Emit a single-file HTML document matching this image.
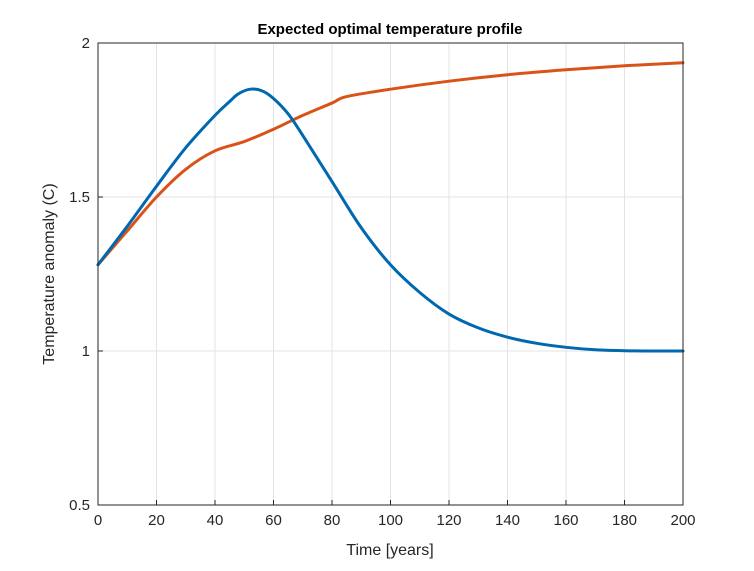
<!DOCTYPE html>
<html><head><meta charset="utf-8"><style>
body{margin:0;background:#fff;}
svg text{font-family:"Liberation Sans",Arial,sans-serif;}
</style></head><body>
<svg id="chart" width="754" height="566" viewBox="0 0 754 566">
<rect x="98" y="43" width="585" height="462" fill="#fff" stroke="none"/>
<g id="grid"></g>
<g id="series"></g>
<rect x="98" y="43" width="585" height="462" fill="none" stroke="#262626" stroke-width="1"/>
<g id="ticks"></g>
<text x="390" y="34" text-anchor="middle" font-size="15" font-weight="bold" fill="#000">Expected optimal temperature profile</text>
<text x="390" y="555" text-anchor="middle" font-size="16" fill="#262626">Time [years]</text>
<text x="54" y="274" text-anchor="middle" font-size="16" fill="#262626" transform="rotate(-90 54 274)">Temperature anomaly (C)</text>
</svg>
<script>
const xTicks=[0,20,40,60,80,100,120,140,160,180,200];
const yTicks=[0.5,1,1.5,2];
const yTickLabels=["0.5","1","1.5","2"];
const blueX=[0,10,20,30,40,45,48,52,56,60,65,70,80,90,100,110,120,130,140,150,160,170,180,190,200];
const blueY=[1.28,1.405,1.535,1.66,1.765,1.81,1.835,1.85,1.845,1.82,1.77,1.70,1.55,1.40,1.28,1.19,1.12,1.075,1.045,1.025,1.012,1.004,1.001,1.0,1.0];
const orangeX=[0,10,20,30,40,50,60,70,80,85,100,120,140,160,180,200];
const orangeY=[1.28,1.39,1.50,1.59,1.65,1.68,1.72,1.765,1.805,1.826,1.85,1.876,1.897,1.913,1.926,1.936];
const L=98,R=683,T=43,B=505;
const sx=v=>L+(v-0)/200*(R-L);
const sy=v=>B-(v-0.5)/1.5*(B-T);
const NS="http://www.w3.org/2000/svg";
const grid=document.getElementById('grid'),ticks=document.getElementById('ticks'),series=document.getElementById('series');
function mk(tag,attrs,parent){const e=document.createElementNS(NS,tag);for(const k in attrs)e.setAttribute(k,attrs[k]);parent.appendChild(e);return e;}
xTicks.forEach(t=>{
 const x=sx(t);
 const g=mk('line',{x1:x,x2:x,y1:T,y2:B,stroke:'#e3e3e3','stroke-width':1},grid);
 
 
 const tk=mk('line',{x1:x,x2:x,y1:B,y2:B-5,stroke:'#262626'},ticks);
 
 
 const tx=mk('text',{x:x,y:B+20,'text-anchor':'middle','font-size':15,fill:'#262626'},ticks);
 tx.textContent=t;
 
 
});
yTicks.forEach((t,i)=>{
 const y=sy(t);
 const g=mk('line',{x1:L,x2:R,y1:y,y2:y,stroke:'#e3e3e3','stroke-width':1},grid);
 
 
 const tk=mk('line',{x1:L,x2:L+5,y1:y,y2:y,stroke:'#262626'},ticks);
 
 
 const tx=mk('text',{x:L-8,y:y+5,'text-anchor':'end','font-size':15,fill:'#262626'},ticks);
 tx.textContent=yTickLabels[i];
 
 
});
function line(xs,ys,color,name){
 const P=xs.map((x,i)=>[sx(x),sy(ys[i])]);
 let d='M'+P[0][0]+','+P[0][1];
 for(let i=0;i<P.length-1;i++){
  const p0=P[Math.max(0,i-1)],p1=P[i],p2=P[i+1],p3=P[Math.min(P.length-1,i+2)];
  const c1=[p1[0]+(p2[0]-p0[0])/6,p1[1]+(p2[1]-p0[1])/6];
  const c2=[p2[0]-(p3[0]-p1[0])/6,p2[1]-(p3[1]-p1[1])/6];
  d+=' C'+c1[0]+','+c1[1]+' '+c2[0]+','+c2[1]+' '+p2[0]+','+p2[1];
 }
 const p=mk('path',{d:d,fill:'none',stroke:color,'stroke-width':3,'stroke-linejoin':'round','stroke-linecap':'round'},series);
 
 
}
line(orangeX,orangeY,'#d95319','orange-series-line');
line(blueX,blueY,'#0068b0','blue-series-line');
</script>
</body></html>
